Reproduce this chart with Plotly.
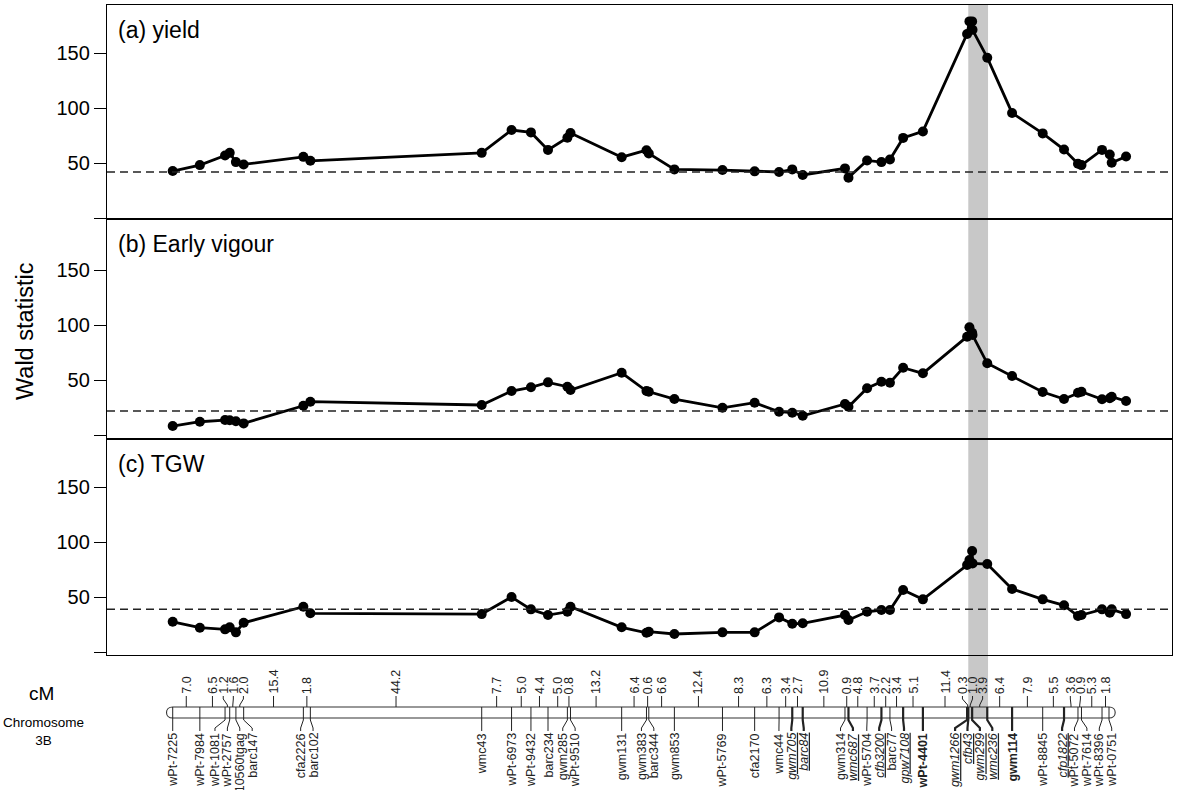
import plotly.graph_objects as go

W, H = 1192, 790

# ---------------- data ----------------
markers = ["wPt-7225", "wPt-7984", "wPt-1081", "wPt-2757", "10560tgag", "barc147",
           "cfa2226", "barc102", "wmc43", "wPt-6973", "wPt-9432", "barc234", "gwm285",
           "wPt-9510", "gwm131", "gwm383", "barc344", "gwm853", "wPt-5769", "cfa2170",
           "wmc44", "gwm705", "barc84", "gwm314", "wmc687", "wPt-5704", "cfb3200",
           "barc77", "gpw7108", "wPt-4401", "gwm1266", "cfb43", "gwm299", "wmc236",
           "gwm114", "wPt-8845", "cfp1822", "wPt-5072", "wPt-7614", "wPt-8396", "wPt-0751"]
intervals = [7.0, 6.5, 1.2, 1.6, 2.0, 15.4, 1.8, 44.2, 7.7, 5.0, 4.4, 5.0, 0.8, 13.2,
             6.4, 0.6, 6.6, 12.4, 8.3, 6.3, 3.4, 2.7, 10.9, 0.9, 4.8, 3.7, 2.2, 3.4,
             5.1, 11.4, 0.3, 1.0, 3.9, 6.4, 7.9, 5.5, 3.6, 0.9, 5.3, 1.8]
italic_markers = ["gwm705", "barc84", "wmc687", "cfb3200", "gpw7108", "gwm1266",
                  "cfb43", "gwm299", "wmc236", "cfp1822"]
bold_markers = ["wPt-4401", "gwm114"]

scan_pos = [0, 7.0, 13.5, 14.7, 16.3, 18.3, 33.7, 35.5, 79.7, 87.4, 92.4, 96.8, 101.8,
            102.6, 115.8, 122.2, 122.8, 129.4, 141.8, 150.1, 156.4, 159.8, 162.5, 173.4,
            174.3, 179.1, 182.8, 185.0, 188.4, 193.5, 204.9, 205.5, 206.2, 206.3, 210.1,
            216.5, 224.4, 229.9, 233.5, 234.4, 239.7, 241.7, 242.2, 245.9]
wald_yield = [43.1, 48.5, 57.2, 59.6, 51.2, 49.1, 56.0, 52.4, 59.6, 80.4, 78.2, 62.3, 73.4,
              77.7, 55.7, 62.0, 59.0, 44.6, 44.0, 42.8, 42.2, 44.6, 39.5, 45.5, 37.1, 52.7,
              51.2, 53.6, 73.2, 79.1, 167.7, 179.1, 179.1, 171.4, 146.1, 95.9, 77.3, 62.6,
              49.7, 48.5, 62.3, 58.1, 50.6, 56.3]
wald_vigour = [8.2, 12.1, 13.6, 13.4, 12.5, 10.6, 26.6, 30.3, 27.3, 40.0, 43.4, 47.9, 43.9,
               40.9, 56.6, 40.0, 39.4, 32.7, 24.8, 29.4, 21.2, 20.3, 17.5, 28.2, 25.7, 42.5,
               48.5, 47.5, 61.2, 56.1, 89.4, 97.9, 93.0, 90.9, 65.2, 53.6, 39.1, 32.7, 38.5,
               39.4, 32.5, 33.4, 34.8, 30.9]
wald_tgw = [27.5, 22.1, 20.6, 22.5, 17.9, 26.6, 41.2, 35.2, 34.5, 50.0, 38.8, 33.6, 36.6,
            41.2, 22.5, 17.5, 18.5, 16.4, 17.9, 17.9, 31.5, 25.7, 26.1, 33.6, 29.1, 36.6,
            38.2, 38.2, 56.4, 47.9, 79.1, 83.6, 91.8, 80.6, 80.0, 57.3, 47.9, 42.5, 32.7,
            33.6, 38.8, 35.7, 38.8, 34.5]
thresholds = [42.2, 21.8, 39.0]
panel_titles = ["(a) yield", "(b) Early vigour", "(c) TGW"]
highlight = [205.2, 210.3]
ytick_vals = [0, 50, 100, 150]
ytick_text = ["", "50", "100", "150"]

# ---------------- helpers ----------------
def px(x):
    return x / W

def py(y):
    return 1 - y / H

marker_pos = [0.0]
for d in intervals:
    marker_pos.append(round(marker_pos[-1] + d, 2))

def spread(vals, gap, iters=2000):
    p = list(vals)
    for _ in range(iters):
        moved = False
        for i in range(len(p) - 1):
            d = p[i + 1] - p[i]
            if d < gap - 1e-6:
                s = (gap - d) / 2
                p[i] -= s
                p[i + 1] += s
                moved = True
        if not moved:
            break
    return p

FONT = "Liberation Sans, Arial, sans-serif"
XR = [-16.95, 257.75]
x_dom = [px(107), px(1172)]
panels_pix = [(5, 219), (219, 439), (439, 655)]
yranges = [[-0.5, 194.0], [-3.6, 196.4], [-2.7, 193.7]]
series = [wald_yield, wald_vigour, wald_tgw]

fig = go.Figure()
layout = dict(width=W, height=H, autosize=False,
              margin=dict(l=0, r=0, t=0, b=0),
              paper_bgcolor="white", plot_bgcolor="rgba(0,0,0,0)",
              showlegend=False, font=dict(family=FONT, color="black"))
shapes = []
annotations = []

for i in range(3):
    sfx = "" if i == 0 else str(i + 1)
    top, bot = panels_pix[i]
    layout["xaxis" + sfx] = dict(domain=x_dom, range=XR, anchor="y" + sfx,
                                 showticklabels=False, ticks="", showgrid=False,
                                 zeroline=False, showline=True, mirror=True,
                                 linecolor="black", linewidth=1.3)
    layout["yaxis" + sfx] = dict(domain=[py(bot), py(top)], range=yranges[i],
                                 anchor="x" + sfx, tickvals=ytick_vals,
                                 ticktext=ytick_text, ticks="outside", ticklen=12,
                                 tickwidth=1.2, tickcolor="black", showgrid=False,
                                 zeroline=False, showline=True, mirror=True,
                                 linecolor="black", linewidth=1.3,
                                 tickfont=dict(size=20, family=FONT))
    fig.add_trace(go.Scatter(x=scan_pos, y=series[i], mode="lines+markers",
                             line=dict(color="black", width=2.8),
                             marker=dict(size=10, color="black"),
                             xaxis="x" + sfx, yaxis="y" + sfx, cliponaxis=False))
    shapes.append(dict(type="line", xref="x" + sfx + " domain", x0=0, x1=1,
                       yref="y" + sfx, y0=thresholds[i], y1=thresholds[i],
                       line=dict(color="#222", width=1.5, dash="8px,5px")))
    annotations.append(dict(text=panel_titles[i], xref="paper", yref="paper",
                            x=px(116), y=py(top + 25), xanchor="left", yanchor="middle",
                            showarrow=False, font=dict(size=23, family=FONT)))

# highlighted interval band
shapes.append(dict(type="rect", xref="x", yref="paper", x0=highlight[0], x1=highlight[1],
                   y0=py(718), y1=py(5), fillcolor="#c8c8c8", line=dict(width=0),
                   layer="below"))

# y axis title
annotations.append(dict(text="Wald statistic", xref="paper", yref="paper",
                        x=px(25), y=py(331), textangle=-90, showarrow=False,
                        xanchor="center", yanchor="middle", font=dict(size=23.5, family=FONT)))

# ---------------- chromosome map ----------------
YT, YB = 707, 718
yt, yb = py(YT), py(YB)
x0, x1 = marker_pos[0], marker_pos[-1]
r = 1.6 * 4 / 3
shapes.append(dict(type="path", xref="x", yref="paper",
                   path=(f"M {x0},{yt} L {x1},{yt} C {x1 + r},{yt} {x1 + r},{yb} {x1},{yb} "
                         f"L {x0},{yb} C {x0 - r},{yb} {x0 - r},{yt} {x0},{yt} Z"),
                   line=dict(color="#333", width=1.1)))

name_x = spread(marker_pos, 3.2)
for m, mp, lx in zip(markers, marker_pos, name_x):
    thick = m in italic_markers or m in bold_markers
    lw = 2.2 if thick else 1.0
    shapes.append(dict(type="line", xref="x", yref="paper", x0=mp, x1=mp, y0=yt, y1=yb,
                       line=dict(color="#222", width=lw)))
    shapes.append(dict(type="path", xref="x", yref="paper",
                       path=f"M {mp},{yb} L {mp},{py(720)} L {lx},{py(728)} L {lx},{py(731)}",
                       line=dict(color="#222", width=lw)))
    if m in italic_markers:
        txt = f"<i><u>{m}</u></i>"
    elif m in bold_markers:
        txt = f"<b>{m}</b>"
    else:
        txt = m
    annotations.append(dict(text=txt, xref="x", yref="paper", x=lx, y=py(732),
                            xanchor="center", yanchor="top", textangle=-90,
                            showarrow=False, borderpad=0,
                            font=dict(size=12.5, family=FONT, color="#222")))

mids = [(marker_pos[i] + marker_pos[i + 1]) / 2 for i in range(len(intervals))]
dist_x = spread(mids, 2.6)
for d, mid, lx in zip(intervals, mids, dist_x):
    shapes.append(dict(type="path", xref="x", yref="paper",
                       path=f"M {mid},{yt} L {mid},{py(705)} L {lx},{py(699)} L {lx},{py(696)}",
                       line=dict(color="#222", width=1.0)))
    annotations.append(dict(text=f"{d:.1f}", xref="x", yref="paper", x=lx, y=py(695),
                            xanchor="center", yanchor="bottom", textangle=-90,
                            showarrow=False, borderpad=0,
                            font=dict(size=12.5, family=FONT, color="#222")))

annotations.append(dict(text="cM", xref="paper", yref="paper", x=px(41), y=py(693),
                        xanchor="center", yanchor="middle", showarrow=False,
                        font=dict(size=19, family=FONT)))
annotations.append(dict(text="Chromosome<br>3B", xref="paper", yref="paper", x=px(43),
                        y=py(731), xanchor="center", yanchor="middle", showarrow=False,
                        font=dict(size=13.5, family=FONT)))

layout["shapes"] = shapes
layout["annotations"] = annotations
fig.update_layout(**layout)

fig.write_html("out.html", config={"displayModeBar": False},
               post_script="document.body.style.margin='0';document.body.style.overflow='hidden';")
